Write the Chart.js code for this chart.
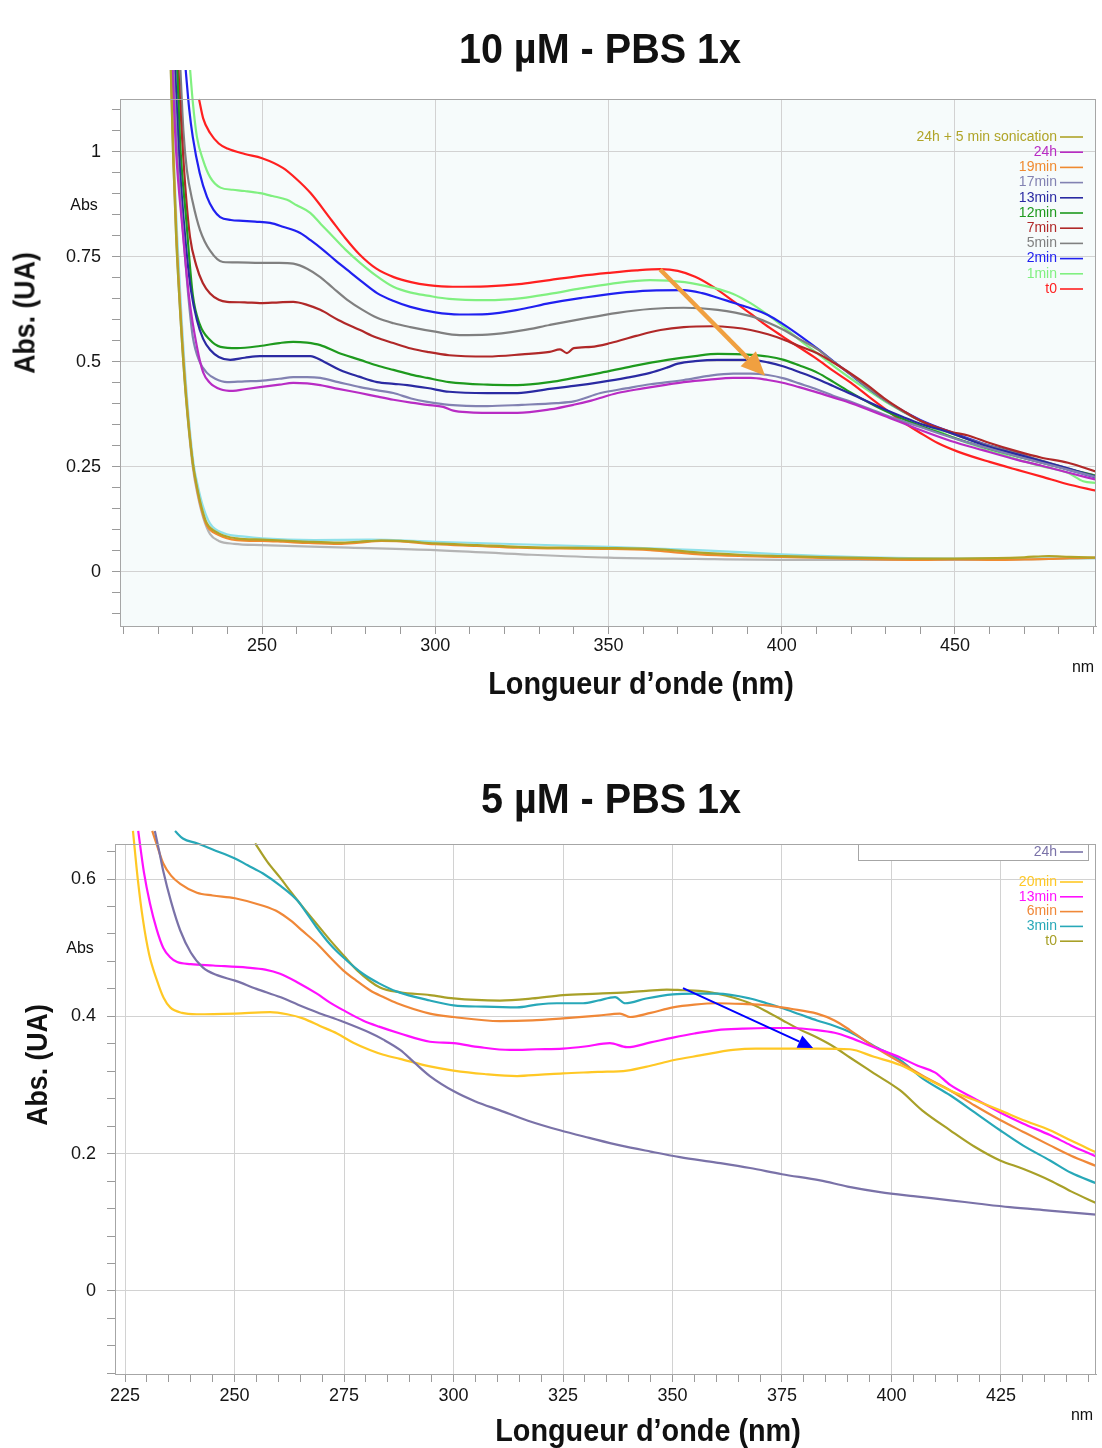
<!DOCTYPE html>
<html>
<head>
<meta charset="utf-8">
<script src="https://cdn.jsdelivr.net/npm/chart.js@4.4.1/dist/chart.umd.min.js"></script>
<style>
  body { margin: 0; background: #fff; }
  #page { position: relative; width: 1102px; height: 1448px; overflow: hidden; font-family: "Liberation Sans", Arial, sans-serif; }
  canvas { position: absolute; left: 0; }
  .lbl { position: absolute; white-space: nowrap; color: #111; line-height: 1; }
  .big { font-weight: bold; }
</style>
</head>
<body>
<div id="page">
  <canvas id="chartTop" width="1102" height="720" style="top:0px"></canvas>
  <canvas id="chartBottom" width="1102" height="708" style="top:740px"></canvas>

  <div class="lbl big" style="left:600px;top:48px;font-size:43px;transform:translate(-50%,-50%) scaleX(0.92)">10 µM - PBS 1x</div>
  <div class="lbl big" style="left:25px;top:313px;font-size:29px;transform:translate(-50%,-50%) rotate(-90deg) scaleX(0.92)">Abs. (UA)</div>
  <div class="lbl big" style="left:641px;top:683px;font-size:32px;transform:translate(-50%,-50%) scaleX(0.9)">Longueur d’onde (nm)</div>
  <div class="lbl" style="left:84px;top:205px;font-size:16px;transform:translate(-50%,-50%)">Abs</div>
  <div class="lbl" style="left:1083px;top:667px;font-size:16px;transform:translate(-50%,-50%)">nm</div>

  <div class="lbl big" style="left:611px;top:798px;font-size:43px;transform:translate(-50%,-50%) scaleX(0.92)">5 µM - PBS 1x</div>
  <div class="lbl big" style="left:37px;top:1065px;font-size:29px;transform:translate(-50%,-50%) rotate(-90deg) scaleX(0.92)">Abs. (UA)</div>
  <div class="lbl big" style="left:648px;top:1430px;font-size:32px;transform:translate(-50%,-50%) scaleX(0.9)">Longueur d’onde (nm)</div>
  <div class="lbl" style="left:80px;top:948px;font-size:16px;transform:translate(-50%,-50%)">Abs</div>
  <div class="lbl" style="left:1082px;top:1415px;font-size:16px;transform:translate(-50%,-50%)">nm</div>
</div>

<script>
// ---------- 10 µM - PBS 1x : [wavelength nm, absorbance] ----------
const top_sonic = [[223.5,1.25],[224.3,1.0],[225.2,0.8],[226.5,0.6],[228,0.42],[230,0.26],[231.4,0.195],[232.5,0.155],[234,0.117],[237.5,0.092],[242.7,0.08],[250,0.077],[256,0.075],[263.5,0.072],[272.2,0.07],[278,0.072],[284.4,0.075],[290,0.074],[300,0.068],[312,0.064],[324,0.06],[336,0.058],[350,0.057],[362,0.055],[368,0.052],[376.4,0.046],[388,0.041],[400,0.038],[414,0.035],[428.5,0.033],[440,0.032],[450,0.032],[462,0.033],[470,0.035],[477,0.038],[483,0.036],[491,0.034]];
const top_24h = [[224,1.22],[225.2,1.0],[227,0.82],[229,0.65],[231.2,0.536],[233,0.475],[235,0.45],[238,0.435],[241.6,0.431],[245,0.435],[249.4,0.44],[255,0.446],[259,0.45],[263,0.449],[266.8,0.445],[272,0.436],[278.3,0.426],[283,0.418],[287.9,0.41],[293,0.403],[297.7,0.398],[302.3,0.393],[305.2,0.384],[310,0.38],[315,0.379],[323.7,0.379],[333,0.387],[339.9,0.398],[345,0.408],[352.6,0.426],[360,0.437],[366,0.445],[371.7,0.452],[379,0.458],[386,0.462],[391,0.462],[396,0.457],[400.6,0.45],[405,0.44],[410.4,0.427],[415,0.415],[420,0.402],[429.5,0.372],[440,0.338],[448.8,0.312],[458,0.29],[468,0.267],[475,0.253],[482,0.238],[491,0.219]];
const top_19min = [[223.6,1.25],[224.4,1.0],[225.3,0.8],[226.6,0.6],[228.1,0.42],[230,0.26],[231.4,0.19],[232.5,0.15],[234,0.112],[237.5,0.088],[242.7,0.076],[250,0.074],[256,0.072],[263.5,0.069],[272.2,0.067],[278,0.07],[284.4,0.074],[290,0.073],[300,0.066],[312,0.062],[324,0.058],[336,0.056],[350,0.055],[362,0.052],[368,0.048],[376.4,0.042],[388,0.038],[400,0.036],[414,0.033],[428.5,0.03],[440,0.029],[450,0.03],[462,0.029],[470,0.03],[477,0.031],[483,0.033],[491,0.034]];
const top_17min = [[224.3,1.22],[225.5,1.0],[227.3,0.8],[228.8,0.65],[230,0.56],[232,0.5],[234.1,0.474],[236.5,0.46],[239.9,0.452],[245,0.454],[249.4,0.455],[255,0.46],[259,0.464],[263,0.464],[266.8,0.462],[272,0.452],[278.3,0.44],[283,0.433],[287.9,0.426],[293,0.413],[297.7,0.405],[304,0.398],[315,0.395],[325,0.398],[335,0.402],[340,0.406],[347.7,0.426],[355,0.437],[362,0.447],[371.7,0.457],[379,0.467],[386,0.472],[391,0.472],[396,0.469],[400.6,0.461],[405,0.449],[410.4,0.434],[415,0.419],[420,0.405],[429.5,0.375],[440,0.345],[449,0.32],[458,0.298],[468,0.275],[475,0.26],[482,0.245],[491,0.225]];
const top_13min = [[224.8,1.22],[226,1.0],[228,0.78],[229.5,0.67],[231.2,0.6],[233,0.555],[235,0.529],[237.5,0.512],[240.8,0.505],[245,0.51],[249.4,0.514],[255,0.514],[263.9,0.514],[268,0.5],[272.5,0.481],[278,0.465],[283.2,0.452],[288,0.448],[291.9,0.445],[297.7,0.438],[304,0.429],[315,0.426],[323.7,0.426],[333,0.436],[340,0.443],[347.7,0.452],[355,0.462],[362,0.474],[367,0.487],[370,0.496],[375,0.502],[381.5,0.505],[391,0.505],[396,0.499],[400.6,0.489],[405,0.476],[410.4,0.459],[415,0.442],[420,0.424],[429.5,0.388],[435,0.369],[440,0.353],[448.8,0.331],[458,0.303],[468,0.28],[475,0.264],[482,0.248],[491,0.226]];
const top_12min = [[225.4,1.22],[226.5,1.0],[228,0.85],[230,0.66],[232,0.59],[235,0.552],[238,0.536],[242.8,0.533],[249.4,0.538],[255,0.545],[259,0.548],[263,0.546],[266.8,0.54],[272,0.522],[278.3,0.505],[283,0.492],[287.9,0.481],[293,0.47],[297.7,0.462],[304,0.452],[315,0.446],[323.7,0.445],[333,0.452],[340,0.462],[347.7,0.474],[357,0.49],[367,0.505],[375,0.514],[381.5,0.519],[391,0.517],[396,0.513],[400.6,0.505],[405,0.492],[410.4,0.474],[415,0.452],[420,0.427],[427,0.395],[434,0.368],[440,0.348],[448.8,0.322],[458,0.298],[468,0.275],[475,0.26],[482,0.246],[491,0.228]];
const top_7min = [[225.7,1.22],[226.8,1.05],[228,0.9],[229.2,0.798],[231,0.73],[232.9,0.688],[235,0.663],[237.5,0.648],[239.9,0.643],[245,0.642],[249.4,0.64],[255,0.642],[259,0.643],[263,0.636],[266.8,0.624],[272,0.6],[278.3,0.576],[283,0.558],[287.9,0.545],[293,0.532],[297.7,0.524],[304,0.516],[315,0.513],[325,0.518],[333,0.524],[336,0.53],[338,0.521],[340,0.533],[345,0.536],[350.6,0.545],[358,0.562],[365,0.576],[371.7,0.583],[380,0.585],[386,0.582],[391,0.576],[396,0.566],[400.6,0.553],[405,0.538],[410.4,0.52],[415,0.498],[420,0.472],[425,0.443],[429.5,0.414],[435,0.384],[440,0.36],[448.8,0.334],[453.8,0.325],[460,0.307],[468,0.287],[475,0.272],[482.6,0.26],[491,0.238]];
const top_5min = [[226.3,1.22],[227.3,1.05],[228.3,0.957],[230,0.88],[232.1,0.814],[235,0.765],[238.7,0.738],[243,0.737],[249.4,0.736],[255,0.736],[259,0.734],[263,0.722],[266.8,0.702],[270.5,0.676],[274.6,0.648],[279,0.624],[283.2,0.605],[288,0.592],[292.8,0.583],[300,0.572],[307,0.564],[315,0.565],[325,0.575],[333,0.588],[342,0.602],[352.6,0.617],[362,0.626],[371.7,0.629],[381.5,0.624],[391,0.609],[396,0.594],[400.6,0.576],[405,0.555],[410.4,0.53],[415,0.5],[420,0.47],[425,0.438],[430,0.408],[435,0.382],[440,0.36],[449,0.33],[458,0.305],[468,0.282],[475,0.265],[482,0.248],[491,0.228]];
const top_2min = [[227.7,1.22],[229,1.1],[230,1.036],[232,0.95],[234.1,0.893],[236,0.862],[237.9,0.845],[241,0.838],[244.5,0.836],[248,0.834],[252.3,0.831],[256,0.822],[261,0.807],[264,0.79],[267.6,0.767],[271,0.743],[274.6,0.719],[279,0.69],[283.2,0.664],[288,0.645],[292.8,0.631],[300,0.618],[307,0.613],[315,0.614],[325,0.626],[333,0.64],[342,0.652],[352.6,0.664],[362,0.67],[371.7,0.671],[377,0.664],[381.5,0.653],[386,0.641],[391,0.628],[396,0.612],[400.6,0.589],[405.5,0.561],[410.4,0.531],[415,0.501],[420,0.469],[424.9,0.438],[429.5,0.411],[434,0.388],[440,0.362],[448.8,0.333],[458,0.306],[468,0.283],[475,0.263],[482,0.245],[491,0.224]];
const top_1min = [[229,1.22],[230,1.12],[231.2,1.036],[233,0.98],[235,0.94],[238,0.915],[241.6,0.91],[245,0.907],[249.4,0.902],[253,0.895],[257.2,0.886],[260,0.873],[263.9,0.855],[267,0.828],[270.5,0.798],[274,0.768],[278.3,0.736],[283,0.705],[287.9,0.679],[293,0.665],[297.7,0.658],[304,0.65],[315,0.647],[325,0.652],[333,0.662],[342,0.675],[350.6,0.686],[362,0.695],[372,0.69],[380,0.677],[386,0.662],[391,0.64],[396,0.612],[400.6,0.583],[405,0.553],[410,0.522],[415,0.49],[420,0.46],[425,0.432],[430,0.405],[434,0.386],[440,0.36],[445,0.337],[451,0.315],[460,0.29],[468,0.268],[475,0.252],[482.6,0.236],[487,0.216],[491,0.212]];
const top_t0 = [[231.8,1.126],[233,1.08],[235,1.045],[237.5,1.02],[240,1.008],[245,0.995],[250,0.985],[256,0.962],[260,0.935],[264,0.902],[270,0.838],[274,0.795],[278,0.757],[283,0.722],[288,0.702],[293,0.69],[298,0.683],[305,0.679],[315,0.68],[325,0.686],[333,0.695],[342,0.705],[350,0.712],[358,0.718],[365,0.721],[370,0.717],[375,0.703],[380,0.68],[386,0.645],[391,0.615],[395,0.59],[400,0.562],[405,0.535],[410,0.508],[415,0.478],[420,0.45],[425,0.418],[430,0.387],[435,0.357],[440,0.331],[445,0.307],[451,0.286],[460,0.262],[468,0.243],[475,0.227],[482,0.21],[491,0.193]];
const top_lowCyan = [[223.7,1.25],[224.5,1.0],[225.5,0.8],[226.8,0.6],[228.3,0.42],[230.2,0.26],[231.6,0.2],[233,0.155],[235,0.115],[239,0.092],[245,0.084],[250,0.08],[265,0.076],[281,0.077],[300,0.072],[324,0.066],[350,0.06],[376,0.052],[400,0.042],[420,0.036],[450,0.032],[491,0.033]];
const top_lowGrey = [[223.5,1.25],[224.3,1.0],[225.2,0.8],[226.5,0.6],[228,0.42],[230,0.25],[231.5,0.18],[233,0.13],[235,0.09],[237.5,0.074],[242,0.067],[250,0.064],[275,0.058],[300,0.052],[325,0.042],[350,0.034],[375,0.031],[400,0.029],[450,0.029],[491,0.033]];

const topLabels = ['24h + 5 min sonication', '24h', '19min', '17min', '13min', '12min', '7min', '5min', '2min', '1min', 't0', '', ''];
const topColors = ['#b0a428', '#b82cc4', '#f08a30', '#8282b2', '#2a2aa2', '#1e9a1e', '#b02828', '#808080', '#2020f0', '#80f080', '#ff2020', '#8fe0e8', '#b4b4b4'];
const topSeries = [top_sonic, top_24h, top_19min, top_17min, top_13min, top_12min, top_7min, top_5min, top_2min, top_1min, top_t0, top_lowCyan, top_lowGrey];
const topXMajor = [250, 300, 350, 400, 450];
const topYMajor = [0, 0.25, 0.5, 0.75, 1];
const topArrow = [[364.9, 0.72], [395.2, 0.467]];

// ---------- 5 µM - PBS 1x ----------
const bot_24h = [[231.8,0.67],[232.8,0.64],[233.7,0.612],[235.5,0.567],[237.6,0.525],[240,0.493],[242.8,0.471],[246,0.46],[250.1,0.452],[255,0.44],[260.4,0.428],[264.5,0.417],[268.8,0.406],[274.8,0.392],[280.9,0.376],[284,0.366],[287.8,0.351],[291,0.333],[294.6,0.313],[300.3,0.29],[305,0.276],[310.6,0.263],[317,0.248],[324.3,0.234],[331,0.223],[338,0.212],[345,0.203],[351.7,0.195],[360,0.187],[367.7,0.179],[375,0.17],[383.7,0.161],[390,0.152],[397.4,0.144],[405,0.138],[413.4,0.132],[420,0.127],[427,0.122],[436,0.117],[446.7,0.111]];
const bot_20min = [[226.8,0.67],[227.9,0.6],[229.1,0.54],[230.5,0.49],[232.3,0.452],[233.8,0.427],[235.3,0.413],[238,0.405],[241.4,0.403],[250.1,0.404],[258.1,0.406],[262,0.403],[265.6,0.397],[269.5,0.386],[273.4,0.375],[277,0.362],[280.9,0.351],[284,0.344],[287.8,0.338],[294.6,0.327],[300,0.321],[307,0.316],[314.5,0.313],[320,0.315],[325,0.317],[333,0.319],[339.6,0.321],[345,0.328],[350.1,0.336],[356.3,0.343],[363.8,0.351],[369,0.353],[375,0.353],[383,0.353],[390.5,0.352],[396,0.341],[402,0.329],[407.5,0.311],[413.4,0.292],[419,0.278],[424.8,0.263],[430,0.249],[436.2,0.234],[441,0.219],[446.7,0.202]];
const bot_13min = [[228,0.67],[229.3,0.61],[230.7,0.564],[232.2,0.527],[233.7,0.5],[235.3,0.486],[236.9,0.479],[240,0.476],[245.1,0.474],[252.9,0.471],[257,0.468],[260.4,0.462],[264.5,0.449],[268.8,0.433],[271.8,0.42],[274.8,0.409],[279.3,0.394],[283,0.385],[287.8,0.375],[294.6,0.363],[300,0.361],[306,0.355],[312.9,0.351],[319,0.352],[325,0.353],[330,0.356],[335.7,0.361],[339.6,0.355],[345,0.362],[350.1,0.369],[355,0.375],[360.2,0.38],[366,0.382],[371.6,0.383],[377,0.383],[383,0.38],[387,0.376],[390.5,0.369],[396,0.355],[402,0.34],[406,0.328],[410,0.318],[413.4,0.3],[419,0.28],[424.8,0.26],[430,0.244],[436.2,0.227],[441,0.212],[446.7,0.196]];
const bot_6min = [[231.2,0.67],[232.5,0.645],[233.7,0.623],[235.5,0.605],[237.6,0.593],[241.4,0.58],[245,0.576],[250.1,0.572],[256.5,0.561],[260,0.552],[262.7,0.54],[265.6,0.524],[268.8,0.506],[271.8,0.486],[274.8,0.467],[277.8,0.452],[280.9,0.438],[284,0.428],[287.1,0.419],[294.6,0.404],[300,0.399],[310.6,0.393],[318,0.394],[325,0.397],[333,0.401],[338,0.404],[340.3,0.399],[345,0.405],[350.1,0.413],[355,0.417],[360.2,0.419],[366,0.418],[371.6,0.416],[377,0.411],[383,0.404],[387,0.394],[390.5,0.38],[396,0.356],[402,0.333],[407.5,0.312],[413.4,0.292],[419,0.27],[424.8,0.249],[430,0.232],[436.2,0.212],[441,0.197],[446.7,0.182]];
const bot_3min = [[236.4,0.67],[238.2,0.659],[241.4,0.652],[245,0.643],[250.1,0.63],[253,0.62],[256.5,0.608],[260.5,0.59],[264.3,0.569],[266.5,0.55],[268.8,0.529],[271.8,0.505],[274.8,0.486],[279.3,0.462],[283,0.448],[287.1,0.436],[294.6,0.423],[300,0.416],[307,0.414],[314.5,0.413],[319,0.417],[323.6,0.419],[329.6,0.419],[333,0.423],[336.9,0.428],[339.2,0.419],[344,0.426],[350.1,0.432],[355,0.433],[360.2,0.433],[367.7,0.426],[371.5,0.419],[375,0.412],[379,0.403],[383,0.394],[387,0.386],[390.5,0.377],[396,0.357],[402,0.336],[407,0.31],[413.4,0.285],[419,0.26],[424.8,0.234],[430,0.212],[436.2,0.19],[441,0.172],[446.7,0.157]];
const bot_t0 = [[254.7,0.652],[257.5,0.625],[260.4,0.602],[263,0.58],[265.6,0.559],[268.7,0.535],[271.8,0.511],[275,0.488],[278,0.467],[283.2,0.442],[287.8,0.435],[294.6,0.431],[300,0.426],[310.6,0.423],[318,0.426],[325,0.431],[333,0.433],[339.6,0.435],[344,0.437],[348.7,0.439],[352.4,0.438],[356,0.437],[360.2,0.433],[364,0.427],[367.7,0.419],[371.5,0.407],[375.2,0.394],[379,0.381],[383,0.369],[387,0.355],[390.5,0.34],[396,0.317],[402,0.292],[407,0.263],[413.4,0.234],[419,0.21],[424.8,0.19],[430,0.178],[436.2,0.161],[441,0.145],[446.7,0.128]];

const botLabels = ['24h', '20min', '13min', '6min', '3min', 't0'];
const botColors = ['#7a72a8', '#ffc825', '#ff10ff', '#f08838', '#28a8b8', '#a8a028'];
const botSeries = [bot_24h, bot_20min, bot_13min, bot_6min, bot_3min, bot_t0];
const botXMajor = [225, 250, 275, 300, 325, 350, 375, 400, 425];
const botYMajor = [0, 0.2, 0.4, 0.6];
const botArrow = [[352.4, 0.441], [382.1, 0.354]];

const FONT = '"Liberation Sans", Arial, Helvetica, sans-serif';
const GRID = '#d2d2d2';
const TICK = '#9a9a9a';
const BOX = '#a6a6a6';

function steps(from, to, step) {
  const out = [];
  for (let v = from; v <= to + 1e-9; v += step) out.push(Math.round(v * 1000) / 1000);
  return out;
}
const isMajor = (list, v) => list.some(m => Math.abs(m - v) < 1e-6);

// plot frame + optional background
const framePlugin = {
  id: 'frame',
  beforeDraw(chart, args, opts) {
    const a = chart.chartArea, ctx = chart.ctx;
    if (opts.bg) {
      ctx.save();
      ctx.fillStyle = opts.bg;
      ctx.fillRect(a.left, a.top, a.right - a.left, a.bottom - a.top);
      ctx.restore();
    }
  },
  afterDraw(chart) {
    const a = chart.chartArea, ctx = chart.ctx;
    ctx.save();
    ctx.strokeStyle = BOX;
    ctx.lineWidth = 1;
    ctx.strokeRect(a.left + 0.5, a.top + 0.5, a.right - a.left - 1, a.bottom - a.top);
    ctx.restore();
  }
};

// legend: text right-aligned, short line sample after it
const curveLegend = {
  id: 'curveLegend',
  afterDatasetsDraw(chart, args, opts) {
    const ctx = chart.ctx;
    ctx.save();
    ctx.font = '14px ' + FONT;
    ctx.textAlign = 'right';
    ctx.textBaseline = 'middle';
    let row = 0;
    chart.data.datasets.forEach(ds => {
      if (!ds.label) return;
      const y = opts.top + row * opts.step + (row > 0 ? opts.extra : 0);
      if (row === 0 && opts.boxFirst) {
        ctx.fillStyle = '#fff';
        ctx.fillRect(opts.box[0], opts.box[1], opts.box[2], opts.box[3]);
        ctx.strokeStyle = BOX;
        ctx.lineWidth = 1;
        ctx.strokeRect(opts.box[0] + 0.5, opts.box[1] + 0.5, opts.box[2], opts.box[3]);
      }
      ctx.fillStyle = ds.borderColor;
      ctx.fillText(ds.label, opts.right, y);
      ctx.strokeStyle = ds.borderColor;
      ctx.lineWidth = 1.6;
      ctx.beginPath();
      ctx.moveTo(opts.right + 3, y);
      ctx.lineTo(opts.right + 26, y);
      ctx.stroke();
      row++;
    });
    ctx.restore();
  }
};

// annotation arrow given in data units
const arrowPlugin = {
  id: 'arrow',
  afterDatasetsDraw(chart, args, opts) {
    const xs = chart.scales.x, ys = chart.scales.y, ctx = chart.ctx;
    const x1 = xs.getPixelForValue(opts.from[0]), y1 = ys.getPixelForValue(opts.from[1]);
    const x2 = xs.getPixelForValue(opts.to[0]), y2 = ys.getPixelForValue(opts.to[1]);
    const ang = Math.atan2(y2 - y1, x2 - x1);
    const hl = opts.head, hw = opts.head * 0.45;
    const bx = x2 - hl * Math.cos(ang), by = y2 - hl * Math.sin(ang);
    ctx.save();
    ctx.strokeStyle = opts.color;
    ctx.fillStyle = opts.color;
    ctx.lineWidth = opts.width;
    ctx.beginPath();
    ctx.moveTo(x1, y1);
    ctx.lineTo(bx, by);
    ctx.stroke();
    ctx.beginPath();
    ctx.moveTo(x2, y2);
    ctx.lineTo(bx + hw * Math.sin(ang), by - hw * Math.cos(ang));
    ctx.lineTo(bx - hw * Math.sin(ang), by + hw * Math.cos(ang));
    ctx.closePath();
    ctx.fill();
    ctx.restore();
  }
};

function buildChart(id, o) {
  const datasets = o.series.map((pts, i) => ({
    label: o.labels[i],
    data: pts.map(p => ({ x: p[0], y: p[1] })),
    borderColor: o.colors[i],
    borderWidth: 2.2,
    pointRadius: 0,
    fill: false,
    cubicInterpolationMode: 'monotone',
    clip: { left: 0, top: o.clipTop, right: 0, bottom: 0 }
  }));
  return new Chart(document.getElementById(id), {
    type: 'line',
    data: { datasets },
    plugins: [framePlugin, curveLegend, arrowPlugin],
    options: {
      responsive: false,
      animation: false,
      events: [],
      layout: { padding: { top: o.padTop, right: 6, left: 0, bottom: 0 } },
      plugins: {
        legend: { display: false },
        tooltip: { enabled: false },
        frame: { bg: o.bg },
        curveLegend: o.legend,
        arrow: o.arrow
      },
      scales: {
        x: {
          type: 'linear',
          min: o.xMin,
          max: o.xMax,
          afterBuildTicks: s => { s.ticks = o.xTicks.map(v => ({ value: v })); },
          afterFit: s => { s.height = o.xAxisH; },
          ticks: {
            autoSkip: false, maxRotation: 0, padding: o.xPad, color: '#151515',
            font: { family: FONT, size: 18 },
            callback: v => isMajor(o.xMajor, v) ? String(v) : ''
          },
          grid: {
            color: c => (c.tick && isMajor(o.xMajor, c.tick.value)) ? GRID : 'rgba(0,0,0,0)',
            tickColor: TICK, tickLength: 8, lineWidth: 1
          },
          border: { color: BOX }
        },
        y: {
          type: 'linear',
          min: o.yMin,
          max: o.yMax,
          afterBuildTicks: s => { s.ticks = o.yTicks.map(v => ({ value: v })); },
          afterFit: s => { s.width = o.yAxisW; },
          ticks: {
            autoSkip: false, padding: 11, color: '#151515',
            font: { family: FONT, size: 18 },
            callback: v => isMajor(o.yMajor, v) ? String(v) : ''
          },
          grid: {
            color: c => (c.tick && isMajor(o.yMajor, c.tick.value)) ? GRID : 'rgba(0,0,0,0)',
            tickColor: TICK, tickLength: 8, lineWidth: 1
          },
          border: { color: BOX }
        }
      }
    }
  });
}

buildChart('chartTop', {
  series: topSeries, labels: topLabels, colors: topColors,
  xMin: 209, xMax: 490.7, xTicks: steps(210, 490, 10), xMajor: topXMajor,
  yMin: -0.1286, yMax: 1.126, yTicks: steps(-0.1, 1.1, 0.05), yMajor: topYMajor,
  padTop: 99, yAxisW: 120, xAxisH: 94, xPad: 1, clipTop: 29, bg: '#f6fbfb',
  legend: { right: 1057, top: 137, step: 15.2, extra: 0, boxFirst: false },
  arrow: { from: topArrow[0], to: topArrow[1], color: '#f0a040', width: 4.5, head: 24 }
});

buildChart('chartBottom', {
  series: botSeries, labels: botLabels, colors: botColors,
  xMin: 222.7, xMax: 446.7, xTicks: steps(225, 445, 5), xMajor: botXMajor,
  yMin: -0.121, yMax: 0.651, yTicks: steps(-0.12, 0.64, 0.04), yMajor: botYMajor,
  padTop: 104, yAxisW: 115, xAxisH: 74, xPad: 3, clipTop: 14, bg: null,
  legend: { right: 1057, top: 112, step: 14.8, extra: 15.2, boxFirst: true, box: [858, 104, 230, 16] },
  arrow: { from: botArrow[0], to: botArrow[1], color: '#0000ff', width: 2, head: 15 }
});
</script>
</body>
</html>
